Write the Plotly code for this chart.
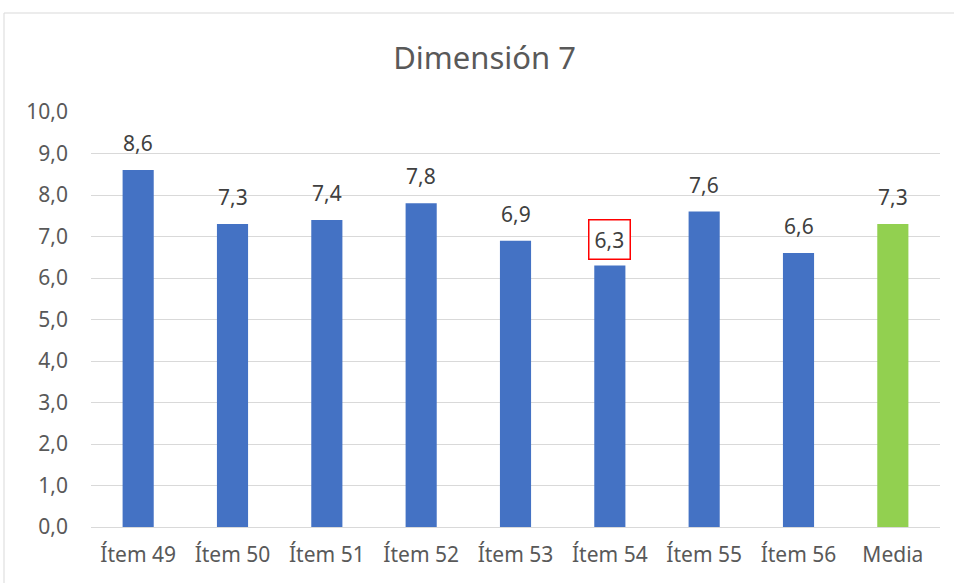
import plotly.graph_objects as go

categories = ["Ítem 49", "Ítem 50", "Ítem 51", "Ítem 52", "Ítem 53",
              "Ítem 54", "Ítem 55", "Ítem 56", "Media"]
values = [8.6, 7.3, 7.4, 7.8, 6.9, 6.3, 7.6, 6.6, 7.3]
highlight = "Ítem 54"

BLUE = "#4472C4"
GREEN = "#92D050"
colors = [GREEN if c == "Media" else BLUE for c in categories]

FONT = "Noto Sans"
W, H = 954, 583
L, R, T, B = 91, 14, 112, 56

fig = go.Figure(go.Bar(
    x=categories, y=values, marker=dict(color=colors, line=dict(width=0)),
    width=0.33, hoverinfo="skip",
))

# value labels above each bar; one of them is framed in red
for c, v in zip(categories, values):
    boxed = c == highlight
    fig.add_annotation(
        x=c, y=v, text=f"{v:.1f}".replace(".", ","), showarrow=False,
        yanchor="bottom", yshift=13 if not boxed else 6,
        font=dict(family=FONT, size=21, color="#404040"),
        bordercolor="#FF0000" if boxed else "rgba(0,0,0,0)",
        borderwidth=1.5 if boxed else 0, borderpad=5 if boxed else 0,
        bgcolor="white" if boxed else "rgba(0,0,0,0)",
    )

pw, ph = W - L - R, H - T - B
# outer chart frame (light gray)
fig.add_shape(type="rect", xref="paper", yref="paper",
              x0=(4 - L) / pw, x1=(W + 10 - L) / pw,
              y0=(H - B - (H + 10)) / ph, y1=(H - B - 13) / ph,
              line=dict(color="#D9D9D9", width=1), fillcolor="rgba(0,0,0,0)",
              layer="below")

fig.update_layout(
    width=W, height=H, margin=dict(l=L, r=R, t=T, b=B),
    paper_bgcolor="white", plot_bgcolor="white",
    separators=",.", showlegend=False, bargap=0.67,
    title=dict(text="Dimensión 7", x=0.508, xanchor="center", y=(H - 58) / H,
               yanchor="middle",
               font=dict(family=FONT, size=31, color="#595959")),
    xaxis=dict(showgrid=False, showline=True, linecolor="#D9D9D9", linewidth=1,
               ticks="", tickfont=dict(family=FONT, size=21, color="#595959"),
               ticklabelstandoff=9),
    yaxis=dict(range=[0, 10], dtick=1, tickformat=".1f", showgrid=True,
               gridcolor="#D9D9D9", gridwidth=1, zeroline=False, ticks="",
               tickfont=dict(family=FONT, size=21, color="#595959"),
               ticklabelstandoff=22),
)

fig.write_html("out.html")
